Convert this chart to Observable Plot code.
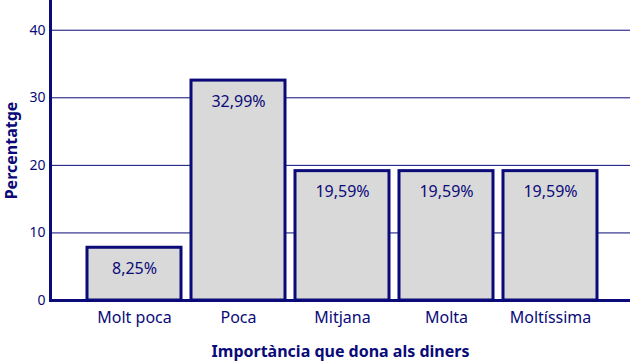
<!DOCTYPE html>
<html><head><meta charset="utf-8">
<script src="https://cdn.jsdelivr.net/npm/d3@7"></script>
<script src="https://cdn.jsdelivr.net/npm/@observablehq/plot@0.6"></script>
<style>body{margin:0;background:#fff}</style>
</head><body><div id="chart"></div>
<script>
const categories = ["Molt poca", "Poca", "Mitjana", "Molta", "Moltíssima"];
const values = [8.25, 32.99, 19.59, 19.59, 19.59];
const labels = ["8,25%", "32,99%", "19,59%", "19,59%", "19,59%"];
const yTicks = [0, 10, 20, 30, 40];
const data = categories.map((c, i) => ({cat: c, v: values[i], label: labels[i]}));
const navy = "#0a0a78";
const font = "'Noto Sans', 'Open Sans', sans-serif";
const chart = Plot.plot({
  width: 630, height: 363,
  marginTop: 0, marginBottom: 63, marginLeft: 50, marginRight: 0,
  style: {fontFamily: font, color: navy, background: "#fff"},
  x: {domain: categories, range: [74, 609], paddingInner: 0.1, paddingOuter: 0.1, label: null},
  y: {domain: [0, 44.4], ticks: yTicks, label: null},
  marks: [
    Plot.gridY(yTicks.filter(d => d > 0), {stroke: navy, strokeOpacity: 1, strokeWidth: 1}),
    Plot.barY(data, {x: "cat", y: "v", insetTop: 3, fill: "#d9d9d9", stroke: navy, strokeWidth: 3}),
    Plot.text(data, {x: "cat", y: "v", text: "label", dy: 24, fill: navy, fontSize: 16}),
    Plot.ruleY([0], {stroke: navy, strokeWidth: 3}),
    Plot.frame({anchor: "left", stroke: navy, strokeWidth: 3}),
    Plot.axisY({ticks: yTicks, tickSize: 0, tickPadding: 5, fontSize: 14, color: navy, label: "Percentatge", labelArrow: "none", labelAnchor: "center", labelOffset: 45}),
    Plot.axisX({tickSize: 0, tickPadding: 11, fontSize: 16, color: navy, label: "Importància que dona als diners", labelArrow: "none", labelAnchor: "center", labelOffset: 56})
  ]
});
document.getElementById("chart").appendChild(chart);
d3.select(chart).selectAll("[aria-label='y-axis label'] text, [aria-label='x-axis label'] text")
  .attr("font-weight", "bold").attr("font-size", 16)
  .each(function() { const t = d3.select(this).text(); d3.select(this).text(t.replace(/[\u2191\u2192\s]+$/,"").replace(/^[\u2191\u2190\s]+/,"")); });
</script>
</body></html>
